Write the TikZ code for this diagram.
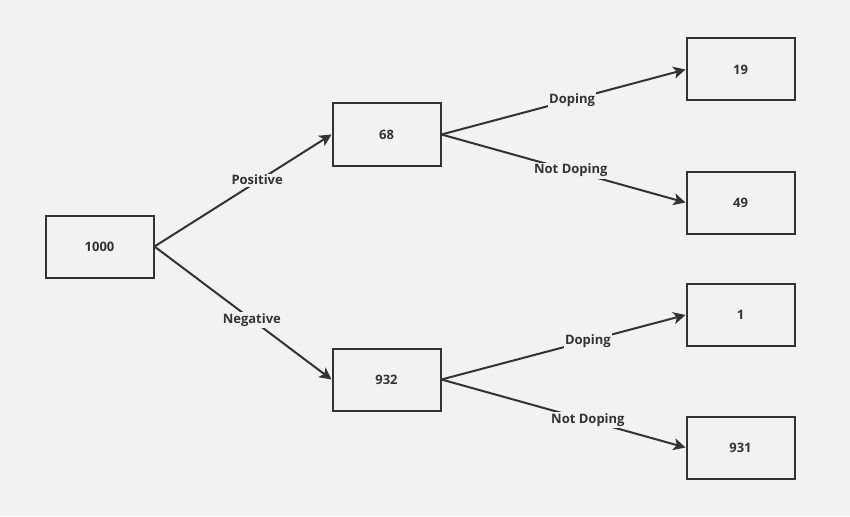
\documentclass[tikz,border=0pt]{standalone}
\usepackage{fontspec}
\setmainfont{Open Sans}
\usetikzlibrary{arrows.meta}
\definecolor{paper}{HTML}{F2F2F2}
\definecolor{ink}{HTML}{333333}
\begin{document}
\begin{tikzpicture}[x=1pt,y=-1pt,
  countbox/.style={draw=ink, fill=paper, line width=2pt, minimum width=108pt,
    minimum height=62pt, inner sep=0pt, text=ink, font=\fontsize{13}{15}\selectfont\bfseries},
  branch/.style={draw=ink, line width=2pt, -{Stealth[length=12pt,width=12pt,inset=3pt]}},
  tag/.style={fill=paper, text=ink, inner sep=1.5pt, font=\fontsize{13}{15}\selectfont\bfseries}]
  \fill[paper] (0,0) rectangle (850,516);
  \useasboundingbox (0,0) rectangle (850,516);

  \node[countbox] (root) at (99.5,246.5) {1000};
  \node[countbox] (pos)  at (386.5,134.5) {68};
  \node[countbox] (neg)  at (386.5,379.5) {932};
  \node[countbox] (pd)   at (740.5,69.5) {19};
  \node[countbox] (pn)   at (740.5,202.5) {49};
  \node[countbox] (nd)   at (740.5,315) {1};
  \node[countbox] (nn)   at (740.5,447.5) {931};

  \draw[branch] (root.east) -- node[tag, pos=0.58, yshift=1.5pt] {Positive} (pos.west);
  \draw[branch] (root.east) -- node[tag, pos=0.55] {Negative} (neg.west);
  \draw[branch] (pos.east) -- node[tag, pos=0.535] {Doping} (pd.west);
  \draw[branch] (pos.east) -- node[tag, pos=0.53] {Not Doping} (pn.west);
  \draw[branch] (neg.east) -- node[tag, pos=0.6] {Doping} (nd.west);
  \draw[branch] (neg.east) -- node[tag, pos=0.6] {Not Doping} (nn.west);
\end{tikzpicture}
\end{document}
